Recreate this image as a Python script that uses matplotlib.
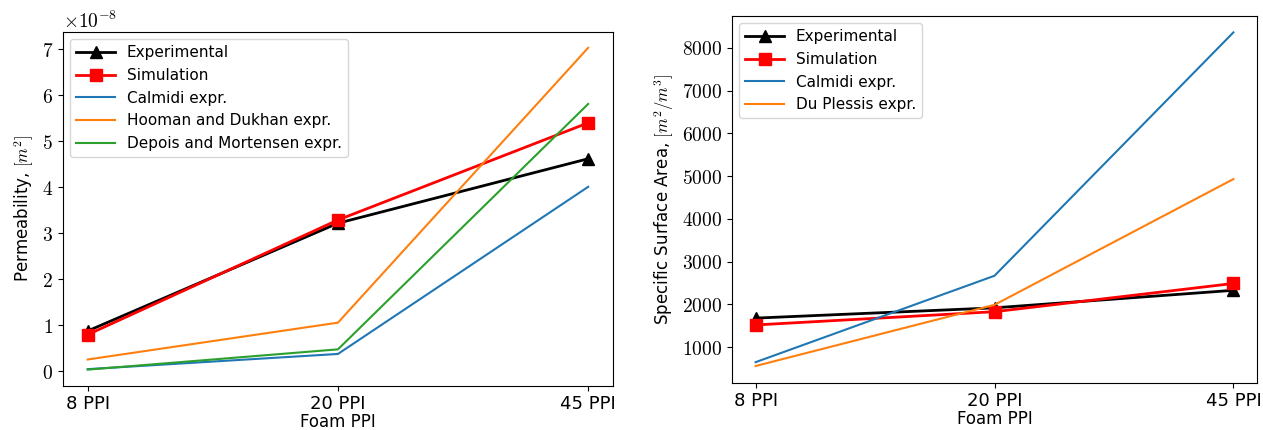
import matplotlib
matplotlib.use("Agg")
import matplotlib.pyplot as plt
from matplotlib import ticker

plt.rcParams['mathtext.fontset'] = 'cm'
plt.rcParams['font.family'] = ['DejaVu Sans']

ppi = ['8 PPI', '20 PPI', '45 PPI']

# permeability [m^2]
perm_exp = [0.88e-8, 3.22e-8, 4.62e-8]
perm_sim = [0.80e-8, 3.29e-8, 5.40e-8]
perm_calmidi = [0.05e-8, 0.38e-8, 4.01e-8]
perm_hooman = [0.26e-8, 1.06e-8, 7.03e-8]
perm_depois = [0.04e-8, 0.48e-8, 5.81e-8]

# specific surface area [m^2/m^3]
ssa_exp = [1680, 1920, 2330]
ssa_sim = [1520, 1830, 2490]
ssa_calmidi = [650, 2670, 8360]
ssa_duplessis = [560, 1990, 4930]


class CMFormatter(ticker.ScalarFormatter):
    # tick numbers in computer modern, like the latex original
    def __call__(self, x, pos=None):
        return super().__call__(x, pos).replace(r'\mathdefault', '')

    def get_offset(self):
        return super().get_offset().replace(r'\mathdefault', '')


fig = plt.figure(figsize=(12.63, 4.3), dpi=100)
ax1 = fig.add_axes([62.7 / 1263, 1 - 385.7 / 430, 550.5 / 1263, 354 / 430])
ax2 = fig.add_axes([731.7 / 1263, 1 - 382.7 / 430, 525.6 / 1263, 367 / 430])

x = range(len(ppi))

ax1.plot(x, perm_exp, 'k-^', lw=2, ms=8, label='Experimental')
ax1.plot(x, perm_sim, 'r-s', lw=2, ms=8, label='Simulation')
ax1.plot(x, perm_calmidi, color='tab:blue', lw=1.5, label='Calmidi expr.')
ax1.plot(x, perm_hooman, color='tab:orange', lw=1.5, label='Hooman and Dukhan expr.')
ax1.plot(x, perm_depois, color='tab:green', lw=1.5, label='Depois and Mortensen expr.')
ax1.set_ylabel('Permeability, $[m^2]$', fontsize=12)

ax2.plot(x, ssa_exp, 'k-^', lw=2, ms=8, label='Experimental')
ax2.plot(x, ssa_sim, 'r-s', lw=2, ms=8, label='Simulation')
ax2.plot(x, ssa_calmidi, color='tab:blue', lw=1.5, label='Calmidi expr.')
ax2.plot(x, ssa_duplessis, color='tab:orange', lw=1.5, label='Du Plessis expr.')
ax2.set_ylabel('Specific Surface Area, $[m^2/m^3]$', fontsize=12)

for ax in (ax1, ax2):
    ax.set_xticks(list(x))
    ax.set_xticklabels(ppi, fontsize=13)
    ax.set_xlabel('Foam PPI', fontsize=12, labelpad=0)
    fmt = CMFormatter(useMathText=True)
    ax.yaxis.set_major_formatter(fmt)
    ax.tick_params(axis='y', labelsize=14)
    ax.tick_params(axis='x', pad=3)
    ax.legend(loc='upper left', fontsize=11, handlelength=2.5)

ax1.yaxis.get_offset_text().set_fontsize(14)

fig.savefig('out.png', dpi=100)
